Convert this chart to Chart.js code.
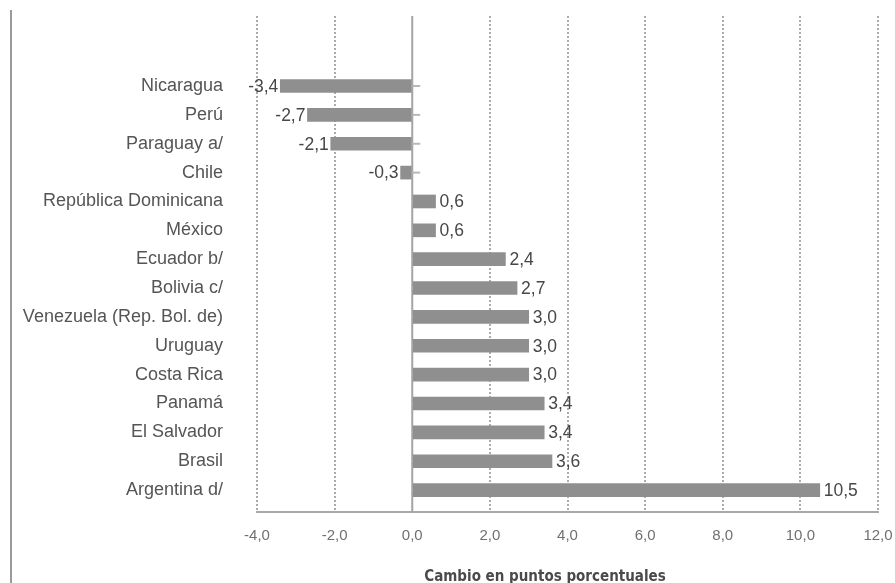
<!DOCTYPE html>
<html>
<head>
<meta charset="utf-8">
<script src="https://cdn.jsdelivr.net/npm/chart.js@4/dist/chart.umd.min.js"></script>
<style>
  html, body { margin: 0; padding: 0; background: #ffffff; }
  #wrap { position: relative; width: 895px; height: 583px; }
</style>
</head>
<body>
<div id="wrap"><canvas id="c" width="895" height="583"></canvas></div>
<script>
const categories = [
  "Nicaragua", "Perú", "Paraguay a/", "Chile", "República Dominicana", "México",
  "Ecuador b/", "Bolivia c/", "Venezuela (Rep. Bol. de)", "Uruguay", "Costa Rica",
  "Panamá", "El Salvador", "Brasil", "Argentina d/"
];
const values = [-3.4, -2.7, -2.1, -0.3, 0.6, 0.6, 2.4, 2.7, 3.0, 3.0, 3.0, 3.4, 3.4, 3.6, 10.5];
const xTicks = [-4, -2, 0, 2, 4, 6, 8, 10, 12];
const axisTitle = "Cambio en puntos porcentuales";

const fmt = v => v.toFixed(1).replace('.', ',');

const decor = {
  id: 'decor',
  beforeDatasetsDraw(chart) {
    const ctx = chart.ctx, xs = chart.scales.x, ys = chart.scales.y, ca = chart.chartArea;
    const x0 = xs.getPixelForValue(0);
    ctx.save();
    ctx.strokeStyle = '#a4a4a4';
    ctx.lineWidth = 2;
    ctx.beginPath();
    ctx.moveTo(x0, ca.top);
    ctx.lineTo(x0, ca.bottom);
    ctx.stroke();
    ctx.strokeStyle = '#b8b8b8';
    categories.forEach((c, i) => {
      const y = ys.getPixelForValue(i);
      ctx.beginPath();
      ctx.moveTo(x0, y);
      ctx.lineTo(x0 + 8, y);
      ctx.stroke();
    });
    ctx.restore();
  },
  afterDatasetsDraw(chart) {
    const ctx = chart.ctx;
    const meta = chart.getDatasetMeta(0);
    ctx.save();
    ctx.font = '17.5px "Liberation Sans", Arial, sans-serif';
    ctx.fillStyle = '#474747';
    ctx.textBaseline = 'middle';
    meta.data.forEach((bar, i) => {
      const v = values[i];
      if (v >= 0) {
        ctx.textAlign = 'left';
        ctx.fillText(fmt(v), bar.x + 4, bar.y + 1);
      } else {
        ctx.textAlign = 'right';
        ctx.fillText(fmt(v), bar.x - 2, bar.y + 1);
      }
    });
    ctx.restore();
  },
  afterDraw(chart) {
    const ctx = chart.ctx;
    ctx.save();
    ctx.strokeStyle = '#9a9a9a';
    ctx.lineWidth = 2;
    ctx.beginPath();
    ctx.moveTo(11, 10);
    ctx.lineTo(11, chart.height);
    ctx.stroke();
    ctx.font = 'bold 15px "Liberation Sans Narrow", "DejaVu Sans Condensed", sans-serif';
    ctx.fillStyle = '#4a4a4a';
    ctx.textAlign = 'center';
    ctx.textBaseline = 'alphabetic';
    ctx.fillText(axisTitle, 545, 581);
    ctx.restore();
  }
};

new Chart(document.getElementById('c'), {
  type: 'bar',
  data: {
    datasets: [{
      data: values.map((v, i) => ({ x: v, y: i })),
      backgroundColor: '#8f8f8f',
      borderWidth: 0,
      barThickness: 13
    }]
  },
  options: {
    indexAxis: 'y',
    responsive: false,
    animation: false,
    layout: { padding: { left: 0, right: 17, top: 16, bottom: 0 } },
    plugins: { legend: { display: false }, tooltip: { enabled: false } },
    scales: {
      x: {
        type: 'linear',
        min: -4,
        max: 12,
        afterBuildTicks: s => { s.ticks = xTicks.map(v => ({ value: v })); },
        afterFit: s => { s.height = 71; s.paddingLeft = 0; s.paddingRight = 0; },
        ticks: {
          callback: v => fmt(v),
          color: '#707070',
          font: { family: '"Liberation Sans", Arial, sans-serif', size: 15 },
          padding: 15,
          maxRotation: 0
        },
        grid: {
          color: ctx => (ctx.tick && ctx.tick.value === 0) ? 'rgba(0,0,0,0)' : '#ababab',
          lineWidth: 2,
          drawTicks: false
        },
        border: { display: true, color: '#a8a8a8', width: 2, dash: [2, 2] }
      },
      y: {
        type: 'linear',
        reverse: true,
        offset: false,
        min: -2.426,
        max: 14.76,
        afterBuildTicks: s => { s.ticks = categories.map((c, i) => ({ value: i })); },
        afterFit: s => { s.width = 257; s.paddingTop = 0; s.paddingBottom = 0; },
        ticks: {
          autoSkip: false,
          callback: v => categories[v],
          color: '#555555',
          font: { family: '"Liberation Sans", Arial, sans-serif', size: 18 },
          padding: 34
        },
        grid: { display: false, drawTicks: false, offset: false },
        border: { display: false }
      }
    }
  },
  plugins: [decor]
});
</script>
</body>
</html>
